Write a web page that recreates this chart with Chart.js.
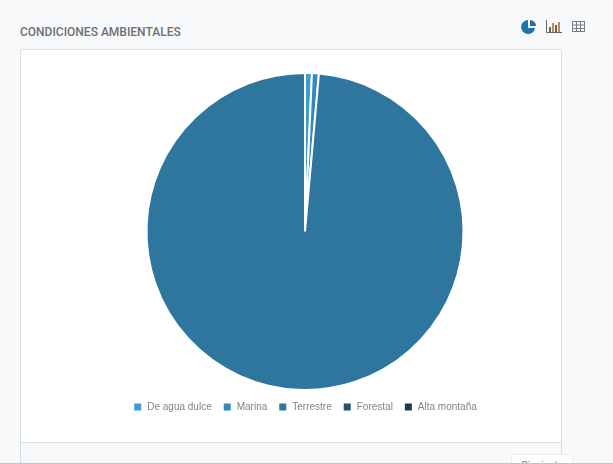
<!DOCTYPE html>
<html>
<head>
<meta charset="utf-8">
<script src="https://cdn.jsdelivr.net/npm/chart.js@4/dist/chart.umd.min.js"></script>
<style>
html, body { margin: 0; padding: 0; width: 613px; height: 464px; overflow: hidden; background: #f7f9fb; }
.title { position: absolute; left: 20px; top: 25px; font: 500 12px Roboto, sans-serif; color: #6b7075; }
.icons { position: absolute; left: 521px; top: 19px; }
.card { position: absolute; left: 20px; top: 49px; width: 540px; height: 393px; background: #fff; border: 1px solid #d5e0e5; border-radius: 2px; }
.foot { position: absolute; left: 20px; top: 442px; width: 540px; height: 30px; border: 1px solid #d5e0e5; background: #f7f9fb; }
.btn { position: absolute; left: 511px; top: 454px; width: 60px; height: 20px; background: #fff; border: 1px solid #e8edf0; border-radius: 2px; font: 10px "Liberation Sans", sans-serif; color: #666; text-align: center; line-height: 21px; }
.edge { position: absolute; left: 0; top: 463px; width: 613px; height: 1px; background: #e9b5b0; }
canvas { display: block; }
</style>
</head>
<body>
<div class="title">CONDICIONES AMBIENTALES</div>
<svg class="icons" width="66" height="16" viewBox="0 0 66 16">
  <path d="M7 1 A7 7 0 1 0 14 9 L7 9 Z" fill="#1f75a8"/>
  <path d="M9 1 A6 6 0 0 1 15 7 L9 7 Z" fill="#1f75a8"/>
  <g fill="none" stroke="#666"><path d="M25.5 1 V13.5 H41"/></g>
  <g fill="#5c6670"><rect x="28" y="8" width="2" height="5"/><rect x="34" y="6" width="2" height="7"/></g>
  <g fill="#c98a4b"><rect x="31" y="4" width="2" height="9"/><rect x="37" y="3" width="2" height="10"/></g>
  <g fill="none" stroke="#77808a"><rect x="51.5" y="2.5" width="12" height="10"/><path d="M51.5 6 H63.5 M51.5 9.5 H63.5 M55.5 2.5 V12.5 M59.5 2.5 V12.5"/></g>
</svg>
<div class="card"><canvas id="myChart" width="540" height="393"></canvas></div>
<div class="foot"></div>
<div class="btn">Siguiente</div>
<div class="edge"></div>
<script>
var categories = ['De agua dulce', 'Marina', 'Terrestre', 'Forestal', 'Alta montaña'];
var values = [0.7, 0.7, 98.6, 0, 0];
var colors = ['#3c9dd2', '#3488bd', '#2e769e', '#23536f', '#1a3c52'];

const ctx = document.getElementById('myChart').getContext('2d');
const myChart = new Chart(ctx, {
    type: 'pie',
    data: {
        labels: categories,
        datasets: [{
            data: values,
            backgroundColor: colors,
            borderColor: '#fff',
            borderWidth: 2
        }]
    },
    options: {
        responsive: false,
        animation: false,
        layout: { padding: { top: 22, bottom: 21, left: 28, right: 0 } },
        plugins: {
            tooltip: { enabled: false },
            legend: {
                position: 'bottom',
                labels: {
                    boxWidth: 9,
                    boxHeight: 9,
                    padding: 11,
                    color: '#808488',
                    font: { family: '"Liberation Sans", Arial, sans-serif', size: 10 }
                }
            }
        }
    }
});
</script>
</body>
</html>
